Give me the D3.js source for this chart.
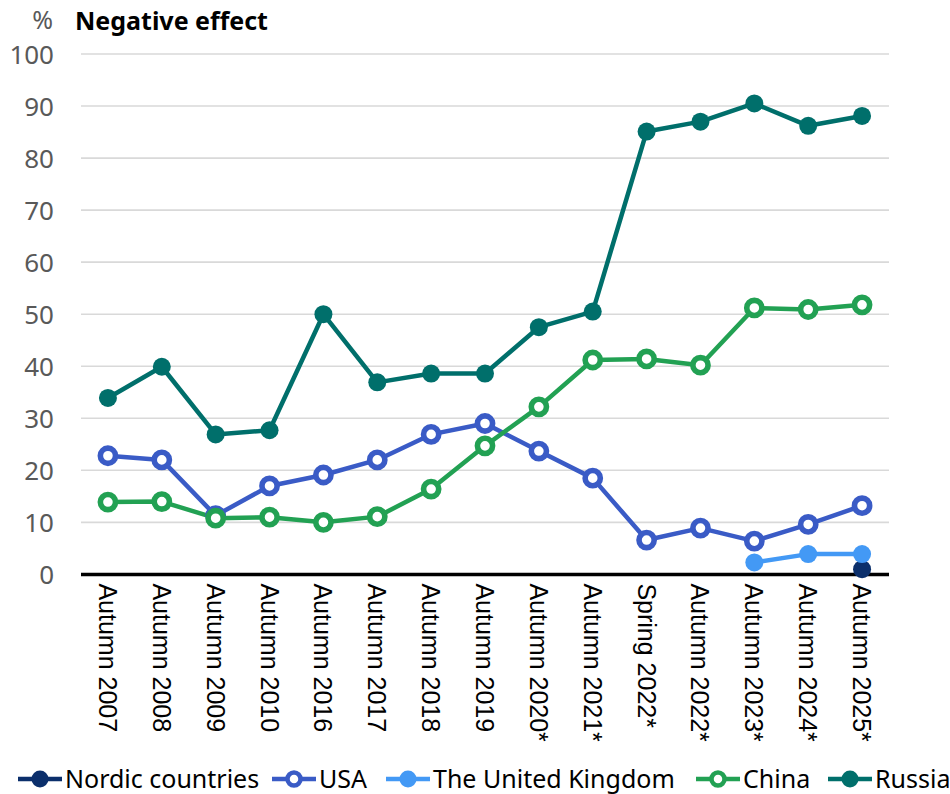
<!DOCTYPE html>
<html>
<head>
<meta charset="utf-8">
<script src="https://cdn.jsdelivr.net/npm/d3@7"></script>
<style>
  html, body { margin: 0; padding: 0; background: #fff; }
  svg { display: block; }
</style>
</head>
<body>
<svg id="chart" width="950" height="794"></svg>
<script>
const categories = ["Autumn 2007","Autumn 2008","Autumn 2009","Autumn 2010","Autumn 2016","Autumn 2017","Autumn 2018","Autumn 2019","Autumn 2020*","Autumn 2021*","Spring 2022*","Autumn 2022*","Autumn 2023*","Autumn 2024*","Autumn 2025*"];
const yTicks = [0,10,20,30,40,50,60,70,80,90,100];
const seriesNames = ["Nordic countries","USA","The United Kingdom","China","Russia"];
const nordic = [null,null,null,null,null,null,null,null,null,null,null,null,null,null,1.0];
const usa    = [22.8,22.0,11.3,17.0,19.1,22.0,26.9,29.0,23.7,18.5,6.6,8.9,6.4,9.6,13.2];
const uk     = [null,null,null,null,null,null,null,null,null,null,null,null,2.3,3.9,3.9];
const china  = [13.9,14.0,10.8,11.0,10.0,11.1,16.4,24.7,32.2,41.2,41.4,40.2,51.2,50.9,51.8];
const russia = [33.9,39.9,26.9,27.7,50.0,36.9,38.6,38.6,47.5,50.5,85.1,87.0,90.5,86.2,88.1];
const yTitle = "%";
const chartTitle = "Negative effect";

const colors = ["#0b2f6b","#3a5bc6","#4399f5","#22a153","#006f6b"];
const hollow = [false,true,false,true,false];
const seriesData = [nordic, usa, uk, china, russia];

const svg = d3.select("#chart");
const x = d3.scaleBand().domain(categories).range([81, 889]);
const y = d3.scaleLinear().domain([0,100]).range([574.4, 54]);

// gridlines
svg.append("g").selectAll("line").data(yTicks.filter(d => d > 0)).join("line")
  .attr("x1", 81).attr("x2", 889)
  .attr("y1", d => y(d)).attr("y2", d => y(d))
  .attr("stroke", "#d9d9d9").attr("stroke-width", 1.6);

// y axis labels
const yAxis = d3.axisLeft(y).tickValues(yTicks).tickSize(0).tickPadding(0);
const gy = svg.append("g").attr("transform", "translate(54,0)").call(yAxis);
gy.select(".domain").remove();
gy.selectAll("text").attr("font-family", "Noto Sans").attr("font-size", 26)
  .attr("fill", "#595959").attr("dy", "0.36em");

// titles
svg.append("text").attr("x", 53).attr("y", 29).attr("text-anchor", "end")
  .attr("font-family", "Noto Sans").attr("font-size", 25).attr("fill", "#595959").text(yTitle);
svg.append("text").attr("x", 75).attr("y", 30)
  .attr("font-family", "Noto Sans").attr("font-weight", "bold").attr("font-size", 25).attr("fill", "#000").text(chartTitle);

// x axis
const xAxis = d3.axisBottom(x).tickSize(0).tickPadding(0);
const gx = svg.append("g").attr("transform", `translate(0,${y(0)})`).call(xAxis);
gx.select(".domain").remove();
gx.selectAll("text")
  .attr("font-family", "Liberation Sans").attr("font-size", 25).attr("fill", "#000")
  .attr("text-anchor", "start").attr("dy", null).attr("y", null)
  .attr("dominant-baseline", "central")
  .attr("transform", "translate(0,9) rotate(90)");

// series
const line = d3.line().defined(d => d.v != null).x(d => x(d.c) + x.bandwidth()/2).y(d => y(d.v));
seriesData.forEach((arr, i) => {
  const pts = arr.map((v, j) => ({c: categories[j], v}));
  svg.append("path").datum(pts).attr("d", line).attr("fill", "none")
    .attr("stroke", colors[i]).attr("stroke-width", 4.5).attr("stroke-linejoin", "round");
});

// zero line
svg.append("line").attr("x1", 81).attr("x2", 889).attr("y1", y(0)).attr("y2", y(0))
  .attr("stroke", "#000").attr("stroke-width", 3.5);

seriesData.forEach((arr, i) => {
  const pts = arr.map((v, j) => ({c: categories[j], v})).filter(d => d.v != null);
  svg.append("g").selectAll("circle").data(pts).join("circle")
    .attr("cx", d => x(d.c) + x.bandwidth()/2).attr("cy", d => y(d.v))
    .attr("r", hollow[i] ? 7.6 : 9)
    .attr("fill", hollow[i] ? "#fff" : colors[i])
    .attr("stroke", hollow[i] ? colors[i] : "none")
    .attr("stroke-width", hollow[i] ? 5.6 : 0);
});

// legend
const legendX = [18, 272, 386, 696, 828];
const lg = svg.append("g").attr("transform", "translate(0,779)");
seriesNames.forEach((name, i) => {
  const g = lg.append("g").attr("transform", `translate(${legendX[i]},0)`);
  g.append("line").attr("x1", 0).attr("x2", 44).attr("y1", 0).attr("y2", 0)
    .attr("stroke", colors[i]).attr("stroke-width", 4.5);
  g.append("circle").attr("cx", 22).attr("cy", 0)
    .attr("r", hollow[i] ? 6.5 : 8.5)
    .attr("fill", hollow[i] ? "#fff" : colors[i])
    .attr("stroke", hollow[i] ? colors[i] : "none")
    .attr("stroke-width", hollow[i] ? 4.5 : 0);
  g.append("text").attr("x", 47).attr("y", 0).attr("dy", "0.36em")
    .attr("font-family", "Noto Sans").attr("font-size", 25).attr("fill", "#000").text(name);
});
</script>
</body>
</html>
